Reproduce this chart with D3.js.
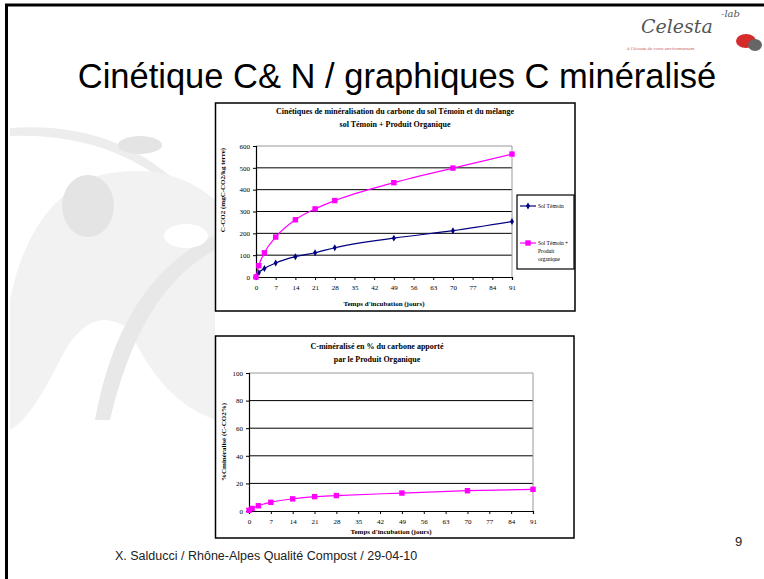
<!DOCTYPE html>
<html>
<head>
<meta charset="utf-8">
<script src="https://cdn.jsdelivr.net/npm/d3@7"></script>
<style>
  body { margin: 0; background: #fff; }
  svg { display: block; }
  .tick text { font-family: "Liberation Serif", serif; }
</style>
</head>
<body>
<div id="slide"></div>
<script>
// values
var days = [0, 1, 3, 7, 14, 21, 28, 49, 70, 91];
var solTemoin = [0, 20, 39, 64, 93, 111, 134, 178, 212, 254];
var solTemoinPO = [0, 52, 111, 183, 262, 312, 350, 432, 499, 563];
var pctMineralise = [0.5, 1.8, 3.8, 6.3, 8.8, 10.4, 11.2, 13.0, 14.7, 15.7];
var xTicks = [0, 7, 14, 21, 28, 35, 42, 49, 56, 63, 70, 77, 84, 91];
var yTicksTop = [0, 100, 200, 300, 400, 500, 600];
var yTicksBottom = [0, 20, 40, 60, 80, 100];

var width = 764, height = 579;

var svg = d3.select("#slide").append("svg")
    .attr("width", width)
    .attr("height", height);

// faint background decoration of the slide template
var deco = svg.append("g").attr("fill", "#ededed").attr("stroke", "none");
deco.append("path")
    .attr("d", "M10,128 Q120,120 190,195 L184,198 Q115,132 10,136 Z");
deco.append("path")
    .attr("d", "M10,300 Q30,200 100,175 Q170,160 215,200 L215,420 Q160,400 130,330 Q90,300 60,360 Q30,420 10,430 Z")
    .attr("fill", "#f2f2f2");
deco.append("ellipse").attr("cx", 88).attr("cy", 206).attr("rx", 26).attr("ry", 31).attr("fill", "#e4e4e4");
deco.append("ellipse").attr("cx", 140).attr("cy", 145).attr("rx", 22).attr("ry", 9).attr("fill", "#e4e4e4");
deco.append("path")
    .attr("d", "M95,420 Q120,280 215,235 L215,250 Q140,290 110,420 Z")
    .attr("fill", "#e8e8e8");
deco.append("ellipse").attr("cx", 186).attr("cy", 236).attr("rx", 22).attr("ry", 12).attr("fill", "#fff");

// slide frame
svg.append("line").attr("x1", 5).attr("x2", width).attr("y1", 5).attr("y2", 5)
    .attr("stroke", "#000").attr("stroke-width", 3);
svg.append("line").attr("x1", 6.5).attr("x2", 6.5).attr("y1", 5).attr("y2", height)
    .attr("stroke", "#000").attr("stroke-width", 3);

// logo
var logo = svg.append("g");
logo.append("text").attr("x", 641).attr("y", 33)
    .attr("font-family", "DejaVu Serif, serif").attr("font-style", "italic")
    .attr("font-size", 19).attr("fill", "#555")
    .text("Celesta");
logo.append("text").attr("x", 721).attr("y", 17)
    .attr("font-family", "DejaVu Serif, serif").attr("font-style", "italic")
    .attr("font-size", 10).attr("fill", "#555").text("-lab");
logo.append("text").attr("x", 627).attr("y", 50)
    .attr("font-family", "Liberation Serif, serif").attr("font-style", "italic")
    .attr("font-size", 5).attr("fill", "#c55").text("à l'écoute de votre environnement");
logo.append("ellipse").attr("cx", 746).attr("cy", 41).attr("rx", 10).attr("ry", 7)
    .attr("fill", "#d62b2b");
logo.append("ellipse").attr("cx", 755).attr("cy", 45).attr("rx", 7).attr("ry", 6)
    .attr("fill", "#666");

// slide title and footer
svg.append("text").attr("x", 397).attr("y", 88)
    .attr("text-anchor", "middle")
    .attr("font-family", "Liberation Sans, Arial, sans-serif")
    .attr("font-size", 34.5).attr("fill", "#000")
    .text("Cinétique C& N / graphiques C minéralisé");

svg.append("text").attr("x", 115).attr("y", 560)
    .attr("font-family", "Liberation Sans, Arial, sans-serif")
    .attr("font-size", 12.5).attr("fill", "#222")
    .text("X. Salducci / Rhône-Alpes Qualité Compost / 29-04-10");

svg.append("text").attr("x", 735).attr("y", 546)
    .attr("font-family", "Liberation Sans, Arial, sans-serif")
    .attr("font-size", 13).attr("fill", "#222")
    .text("9");

function drawChart(c) {
    var g = svg.append("g");

    g.append("rect")
        .attr("x", c.box[0]).attr("y", c.box[1])
        .attr("width", c.box[2] - c.box[0]).attr("height", c.box[3] - c.box[1])
        .attr("fill", "#fff").attr("stroke", "#000").attr("stroke-width", 1.5);

    var x = d3.scaleLinear().domain([0, 91]).range([c.plot[0], c.plot[2]]);
    var y = d3.scaleLinear().domain([0, c.yMax]).range([c.plot[3], c.plot[1]]);

    // gridlines
    g.append("g").selectAll("line")
        .data(c.yTicks.filter(function(d) { return d > 0 && d < c.yMax; }))
        .enter().append("line")
        .attr("x1", c.plot[0]).attr("x2", c.plot[2])
        .attr("y1", function(d) { return y(d); })
        .attr("y2", function(d) { return y(d); })
        .attr("stroke", "#000").attr("stroke-width", 1);

    // plot area frame (top and right in grey)
    g.append("path")
        .attr("d", "M" + c.plot[0] + "," + c.plot[1] + "H" + c.plot[2] + "V" + c.plot[3])
        .attr("fill", "none").attr("stroke", "#999").attr("stroke-width", 1);

    var yAxis = g.append("g")
        .attr("transform", "translate(" + c.plot[0] + ",0)")
        .call(d3.axisLeft(y).tickValues(c.yTicks).tickSize(3).tickPadding(3));
    var xAxis = g.append("g")
        .attr("transform", "translate(0," + c.plot[3] + ")")
        .call(d3.axisBottom(x).tickValues(xTicks).tickSize(3).tickPadding(5));

    [yAxis, xAxis].forEach(function(a) {
        a.select(".domain").attr("stroke", "#000").attr("stroke-width", 1.2);
        a.selectAll(".tick line").attr("stroke", "#000");
        a.selectAll(".tick text").attr("font-size", 7).attr("fill", "#000");
    });

    // titles
    c.title.forEach(function(t, i) {
        g.append("text")
            .attr("x", c.titleX).attr("y", c.titleY + i * 12.5)
            .attr("text-anchor", "middle")
            .attr("font-family", "Liberation Serif, serif")
            .attr("font-weight", "bold").attr("font-size", 8)
            .text(t);
    });

    g.append("text")
        .attr("x", (c.plot[0] + c.plot[2]) / 2).attr("y", c.xTitleY)
        .attr("text-anchor", "middle")
        .attr("font-family", "Liberation Serif, serif")
        .attr("font-weight", "bold").attr("font-size", 7)
        .text("Temps d'incubation (jours)");

    g.append("text")
        .attr("transform", "translate(" + c.yTitle[0] + "," + c.yTitle[1] + ") rotate(-90)")
        .attr("text-anchor", "middle")
        .attr("font-family", "Liberation Serif, serif")
        .attr("font-weight", "bold").attr("font-size", 7)
        .text(c.yLabel);

    var line = d3.line()
        .x(function(d) { return x(d[0]); })
        .y(function(d) { return y(d[1]); })
        .curve(d3.curveMonotoneX);

    c.series.forEach(function(s) {
        var pts = days.map(function(d, i) { return [d, s.values[i]]; });
        g.append("path").datum(pts)
            .attr("d", line)
            .attr("fill", "none").attr("stroke", s.color).attr("stroke-width", 1.2);
        if (s.marker === "square") {
            g.append("g").selectAll("rect").data(pts).enter().append("rect")
                .attr("x", function(d) { return x(d[0]) - 2.7; })
                .attr("y", function(d) { return y(d[1]) - 2.7; })
                .attr("width", 5.4).attr("height", 5.4)
                .attr("fill", s.color);
        } else {
            g.append("g").selectAll("path").data(pts).enter().append("path")
                .attr("d", d3.symbol(d3.symbolDiamond, 14))
                .attr("transform", function(d) { return "translate(" + x(d[0]) + "," + y(d[1]) + ")"; })
                .attr("fill", s.color);
        }
    });

    if (c.legend) {
        var L = c.legend;
        var lg = g.append("g");
        lg.append("rect")
            .attr("x", L.box[0]).attr("y", L.box[1])
            .attr("width", L.box[2] - L.box[0]).attr("height", L.box[3] - L.box[1])
            .attr("fill", "#fff").attr("stroke", "#000").attr("stroke-width", 1.2);
        c.series.forEach(function(s, i) {
            var ly = L.rows[i];
            lg.append("line")
                .attr("x1", L.box[0] + 3).attr("x2", L.box[0] + 19)
                .attr("y1", ly).attr("y2", ly)
                .attr("stroke", s.color).attr("stroke-width", 1.2);
            if (s.marker === "square") {
                lg.append("rect").attr("x", L.box[0] + 8.3).attr("y", ly - 2.7)
                    .attr("width", 5.4).attr("height", 5.4).attr("fill", s.color);
            } else {
                lg.append("path").attr("d", d3.symbol(d3.symbolDiamond, 14))
                    .attr("transform", "translate(" + (L.box[0] + 11) + "," + ly + ")")
                    .attr("fill", s.color);
            }
            s.label.forEach(function(t, j) {
                lg.append("text")
                    .attr("x", L.box[0] + 21).attr("y", ly + 2 + j * 8)
                    .attr("font-family", "Liberation Serif, serif")
                    .attr("font-size", 5.5).attr("fill", "#000")
                    .text(t);
            });
        });
    }
}

drawChart({
    box: [215.5, 103, 575, 311],
    plot: [256, 146, 512, 277],
    yMax: 600,
    yTicks: yTicksTop,
    title: ["Cinétiques de minéralisation du carbone du sol Témoin et du mélange",
            "sol Témoin + Produit Organique"],
    titleX: 395, titleY: 114,
    xTitleY: 306,
    yTitle: [225, 190],
    yLabel: "C-CO2 (mgC-CO2/kg terre)",
    series: [
        { values: solTemoin, color: "#000080", marker: "diamond", label: ["Sol Témoin"] },
        { values: solTemoinPO, color: "#ff00ff", marker: "square", label: ["Sol Témoin +", "Produit", "organique"] }
    ],
    legend: { box: [517, 195, 574, 269], rows: [206, 243] }
});

drawChart({
    box: [215.5, 336, 574, 538],
    plot: [249, 373, 533, 511],
    yMax: 100,
    yTicks: yTicksBottom,
    title: ["C-minéralisé en % du carbone apporté", "par le Produit Organique"],
    titleX: 377, titleY: 349,
    xTitleY: 534,
    yTitle: [226, 442],
    yLabel: "%Cminéralisé (C-CO2%)",
    series: [
        { values: pctMineralise, color: "#ff00ff", marker: "square", label: [] }
    ]
});
</script>
</body>
</html>
